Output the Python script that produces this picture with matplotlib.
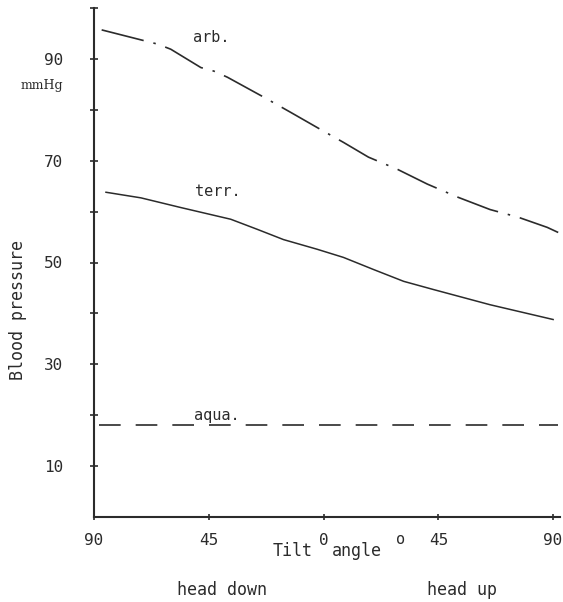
import matplotlib
matplotlib.use('Agg')
import matplotlib.pyplot as plt

# tilt angle: negative = head down, positive = head up
arb_x = [-87, -65, -59.9, -48.1, -43, -37.7, -23.5, -12.9, 0, 7.8, 17.6, 29, 40.7, 52.8, 65.3, 76.3, 87.7, 92]
arb_y = [95.7, 92.9, 91.9, 88.3, 87.6, 86.4, 82.5, 79.5, 75.8, 73.6, 70.7, 68.3, 65.4, 62.8, 60.4, 58.9, 56.9, 55.9]
terr_x = [-85.3, -71.6, -56, -36.4, -25.9, -15.7, -2.5, 7.8, 19.7, 31.4, 43, 65.3, 90]
terr_y = [63.8, 62.7, 60.8, 58.5, 56.5, 54.5, 52.6, 51.0, 48.6, 46.3, 44.7, 41.7, 38.8]
aqua_x = [-88, 92]
aqua_y = [18.1, 18.1]

xticks = [-90, -45, 0, 45, 90]
xticklabels = ['90', '45', '0', '45', '90']
yticks = [10, 30, 50, 70, 90]
yminor = [20, 40, 60, 80, 100]

ink = '#2b2b2b'
mono = 'DejaVu Sans Mono'
plt.rcParams['font.family'] = mono

fig = plt.figure(figsize=(5.63, 6.02), dpi=100)
ax = fig.add_axes([94/563, 85/602, 466/563, 509/602])

ax.plot(arb_x, arb_y, color=ink, lw=1.2, dashes=(26, 6, 1.5, 6))
ax.plot(terr_x, terr_y, color=ink, lw=1.1)
ax.plot(aqua_x, aqua_y, color=ink, lw=1.2, dashes=(13, 9))

ax.text(-44, 94.3, 'arb.', fontsize=11, color=ink, ha='center', va='center')
ax.text(-41.5, 64, 'terr.', fontsize=11, color=ink, ha='center', va='center')
ax.text(-42, 19.9, 'aqua.', fontsize=11, color=ink, ha='center', va='center')

ax.set_xlim(-90, 92.7)
ax.set_ylim(0, 100)
for s in ['top', 'right']:
    ax.spines[s].set_visible(False)
for s in ['left', 'bottom']:
    ax.spines[s].set_linewidth(1.5)
    ax.spines[s].set_color(ink)

ax.set_xticks(xticks)
ax.set_xticklabels(xticklabels, fontsize=11.5, color=ink)
ax.set_yticks(yticks)
ax.set_yticklabels([str(v) for v in yticks], fontsize=11.5, color=ink)
ax.set_yticks(yminor, minor=True)
ax.tick_params(axis='y', which='both', direction='inout', length=6, width=1.2, color=ink, pad=19)
ax.tick_params(axis='x', which='both', direction='inout', length=5, width=1.2, color=ink, pad=9)

# axis texts placed in figure pixels (from the top-left)
def fig_text(px, py, s, **kw):
    fig.text(px/563, 1 - py/602, s, color=ink, **kw)

fig_text(63, 86, 'mmHg', fontsize=9, ha='right', va='center', family='DejaVu Serif')
fig_text(18, 310, 'Blood pressure', fontsize=12, rotation=90, ha='center', va='center')
fig_text(293, 551, 'Tilt', fontsize=12, ha='center', va='center')
fig_text(357, 551, 'angle', fontsize=12, ha='center', va='center')
fig_text(401, 540, 'o', fontsize=11, ha='center', va='center')
fig_text(222, 590, 'head down', fontsize=12, ha='center', va='center')
fig_text(462, 590, 'head up', fontsize=12, ha='center', va='center')

fig.savefig('out.png', dpi=100)
